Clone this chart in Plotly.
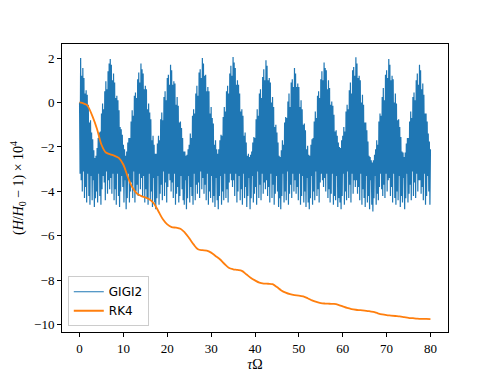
"""
Energy error of GIGI2 vs RK4 over tau*Omega, drawn with Plotly.
"""

import numpy as np
import plotly.graph_objects as go

gigi2_h = [
    0.0, -3.2, 2.0, -3.5, 1.2, -4.0, 1.55, -3.1, 1.1, -4.3, 0.4, -3.8, 0.55, -4.5, 0.35, -3.2,
    -0.1, -4.2, -0.9, -4.6, -0.8, -3.3, -1.35, -4.4, -1.65, -3.5, -2.15, -4.7, -2.5, -4.3,
    -2.4, -4.0, -2.05, -4.5, -1.6, -3.2, -1.35, -4.2, -1.3, -4.6, -0.5, -3.9, -0.05, -3.3,
    -0.3, -3.6, 0.5, -4.4, 0.95, -3.1, 0.6, -4.1, 1.4, -3.5, 1.75, -3.9, 1.95,
    -3.4, 1.7, -4.1, 1.0, -3.2, 1.3, -4.4, 0.9, -3.9, 0.2, -4.6, 0.3, -3.2, 0.1, -4.2, -0.35,
    -4.7, -1.1, -4.0, -1.2, -3.3, -1.45, -3.8, -1.9, -4.5, -2.1, -3.5, -2.4,
    -4.8, -2.2, -4.3, -1.8, -3.2, -1.6, -4.5, -1.6, -4.0, -0.85, -3.6, -0.35, -4.3, -0.6,
    -3.1, 0.3, -4.5, 0.45, -4.0, 0.2, -3.7, 1.05, -4.2, 1.35, -3.2, 0.9, -3.9, 1.75,
    -3.4, 1.5, -4.2, 1.3, -3.3, 0.6, -4.5, 0.75, -3.9, 0.6, -4.3, -0.3, -4.6, -0.05, -3.2, -0.45,
    -4.4, -0.75, -4.0, -1.7, -4.7, -1.5, -3.4, -1.9, -4.5, -2.3, -4.8,
    -2.3, -4.3, -1.85, -3.3, -1.5, -4.6, -1.7, -4.1, -0.75, -3.7, -0.45, -4.4, -0.8, -3.1,
    0.25, -4.2, 0.5, -3.6, 0.1, -4.5, 1.1, -3.8, 1.25, -3.2, 0.8, -3.5, 1.7,
    -4.0, 1.45, -3.6, 0.8, -4.3, 0.95, -3.2, 0.85, -4.6, -0.1, -4.1, 0.25, -3.8, -0.15, -4.5, -0.9,
    -4.2, -0.85, -3.3, -1.15, -3.9, -1.6, -4.4, -2.2, -4.6, -2.2, -3.5, -2.4,
    -4.8, -2.35, -4.3, -2.1, -3.3, -1.9, -4.5, -1.4, -3.8, -1.6, -4.2, -0.6, -4.6, -0.3, -3.2, -0.5,
    -4.4, 0.4, -3.7, 0.75, -4.1, 0.3, -3.6, 1.35, -4.3, 1.5, -3.1, 1.1, -3.9, 2.0,
    -3.4, 1.75, -4.1, 1.2, -3.7, 1.25, -4.4, 0.5, -3.2, 0.7, -4.6, 0.5, -4.0, -0.5, -4.3, -0.2,
    -3.3, -0.7, -4.5, -0.95, -4.2, -1.9, -4.7, -1.7, -3.4, -2.1, -4.4, -2.3,
    -4.8, -2.1, -4.2, -1.7, -3.3, -1.45, -4.6, -1.5, -4.0, -0.65, -4.4, -0.2, -3.2, -0.4,
    -4.3, 0.5, -3.9, 0.75, -4.5, 0.4, -3.6, 1.3, -3.2, 1.65, -3.5, 1.2, -3.8, 2.05,
    -3.5, 1.8, -4.2, 1.55, -3.2, 0.8, -4.5, 1.0, -4.0, 0.8, -3.3, 0.4, -4.4, -0.4, -3.9, -0.3,
    -4.6, -0.6, -3.2, -1.5, -4.3, -1.35, -3.8, -1.8, -4.7, -2.4, -4.2, -2.3, -3.4, -2.45,
    -4.8, -2.35, -4.3, -2.2, -3.3, -1.8, -4.5, -1.55, -4.1, -1.6, -3.8, -0.75, -4.6, -0.3,
    -3.1, -0.6, -4.3, 0.4, -3.7, 0.6, -4.4, 0.2, -3.2, 1.15, -4.1, 1.5, -3.6, 1.0, -3.9, 1.9,
    -3.5, 1.65, -4.2, 1.0, -3.8, 1.1, -4.5, 0.9, -3.2, 0.0, -4.3, 0.25, -3.7, -0.2,
    -4.6, -1.1, -4.1, -1.0, -3.3, -1.35, -4.0, -1.8, -4.7, -2.4, -4.3, -2.45,
    -4.8, -2.15, -4.2, -1.7, -3.2, -1.9, -4.5, -0.9, -4.0, -0.65, -4.4, -0.7, -3.1, 0.05,
    -4.6, 0.4, -4.1, -0.2, -3.7, 0.9, -4.3, 1.05, -3.2, 0.7, -4.0, 1.55,
    -3.5, 1.3, -4.1, 0.7, -3.8, 0.85, -4.4, 0.7, -3.2, -0.2, -4.6, 0.1, -4.2, -0.3, -3.3, -1.0,
    -4.5, -0.95, -4.0, -1.25, -4.7, -2.1, -3.4, -1.95, -4.5, -2.35, -4.8,
    -2.4, -4.3, -1.9, -3.3, -1.65, -4.6, -1.6, -4.0, -0.85, -4.4, -0.4, -3.1, -0.7, -4.2,
    0.3, -3.9, 0.5, -4.5, 0.2, -3.6, 1.05, -3.2, 1.4, -3.5, 1.0, -3.8, 1.8,
    -3.4, 1.55, -4.0, 1.45, -3.2, 0.6, -4.3, 1.0, -3.9, 0.65, -4.5, -0.1, -4.1, 0.05, -3.2, -0.15,
    -4.6, -0.55, -4.2, -1.3, -4.4, -1.25, -3.3, -1.5, -4.7, -1.8, -4.3, -2.0, -4.5,
    -2.05, -4.8, -1.7, -4.2, -1.5, -3.2, -1.1, -4.6, -1.3, -4.0, -0.4, -4.4, -0.1, -3.1, -0.3,
    -4.3, 0.55, -3.7, 0.9, -4.5, 0.4, -3.2, 1.45, -4.1, 1.6, -3.5, 1.2, -3.8, 2.03,
    -3.5, 1.75, -4.1, 1.1, -3.8, 1.2, -4.4, 1.0, -3.2, 0.0, -4.6, 0.35, -3.9, -0.1, -4.3, -0.9,
    -4.7, -0.9, -3.3, -1.25, -4.5, -1.75, -4.2, -2.4, -4.8, -2.45, -3.5, -2.6, -4.6, -2.7,
    -4.9, -2.6, -4.3, -2.35, -3.3, -2.1, -4.6, -1.7, -4.1, -1.9, -4.4, -0.85, -3.8, -0.5,
    -3.2, -0.6, -3.9, 0.25, -4.2, 0.65, -3.7, 0.1, -4.3, 1.25, -3.2, 1.45, -4.0, 1.1, -3.5, 1.96,
    -3.4, 1.7, -4.2, 1.0, -3.8, 1.2, -4.5, 1.05, -3.2, 0.0, -4.3, 0.4, -4.6, -0.05, -4.0, -0.8,
    -4.4, -0.75, -3.3, -1.1, -4.7, -1.55, -4.2, -2.2, -4.5, -2.25, -3.4, -2.45,
    -4.8, -2.25, -4.3, -1.85, -3.2, -1.6, -4.5, -1.6, -4.1, -0.85, -3.7, -0.4, -4.4, -0.7,
    -3.1, 0.25, -4.2, 0.45, -3.6, 0.1, -4.3, 1.0, -3.2, 1.3, -4.0, 0.8, -3.5, 1.7,
    -3.5, 1.45, -4.1, 0.6, -3.8, 0.85, -4.4, 0.35, -3.2, -0.5, -4.6, -0.5, -4.2, -0.85,
    -3.3, -1.4, -4.0, -1.75, -4.6, -2.1,
]
gigi2_tau = np.linspace(0, 80, len(gigi2_h))

# RK4: slow staircase drift
rk4_tau = [
    0, 1, 1.7, 2, 3, 4, 5, 6, 7, 8, 9, 10, 11, 12, 13, 14, 15, 16, 17, 18, 19, 20,
    21, 22, 23, 24, 25, 26, 27, 28, 29, 30, 31, 32, 33, 34, 35, 36, 37, 38, 39, 40,
    41, 42, 43, 44, 45, 46, 47, 48, 49, 50, 51, 52, 53, 54, 55, 56, 57, 58, 59, 60,
    61, 62, 63, 64, 65, 66, 67, 68, 69, 70, 71, 72, 73, 74, 75, 76, 77, 78, 79, 80,
]
rk4_h = [
    0.0, -0.05, -0.11, -0.2, -0.65, -1.2, -1.9, -2.25, -2.33, -2.4, -2.5, -2.8, -3.35,
    -3.8, -4.08, -4.2, -4.27, -4.36, -4.55, -4.9, -5.25, -5.48,
    -5.6, -5.63, -5.68, -5.85, -6.1, -6.38, -6.6, -6.64, -6.66, -6.75, -6.9, -7.05,
    -7.25, -7.43, -7.5, -7.53, -7.57, -7.72, -7.88, -8.0,
    -8.1, -8.14, -8.15, -8.17, -8.3, -8.45, -8.55, -8.62, -8.66, -8.68, -8.72, -8.8,
    -8.9, -8.97, -9.02, -9.04, -9.05, -9.06, -9.1, -9.17,
    -9.24, -9.29, -9.32, -9.34, -9.36, -9.38, -9.42, -9.48, -9.53, -9.56, -9.58, -9.6,
    -9.62, -9.65, -9.68, -9.7, -9.72, -9.73, -9.73, -9.74,
]

x_ticks = [0, 10, 20, 30, 40, 50, 60, 70, 80]
y_ticks = [-10, -8, -6, -4, -2, 0, 2]

fig = go.Figure()
fig.add_trace(
    go.Scatter(
        x=gigi2_tau,
        y=gigi2_h,
        name="GIGI2",
        mode="lines",
        line=dict(color="#1f77b4", width=1.2),
    )
)
fig.add_trace(
    go.Scatter(
        x=rk4_tau,
        y=rk4_h,
        name="RK4",
        mode="lines",
        line=dict(color="#ff7f0e", width=1.8, shape="spline"),
    )
)

axis_style = dict(
    showline=True,
    linecolor="black",
    linewidth=1,
    mirror=True,
    showgrid=False,
    zeroline=False,
    automargin=False,
    ticks="outside",
    ticklen=4,
    tickcolor="black",
    tickfont=dict(family="Liberation Serif", size=13, color="black"),
)

fig.update_xaxes(
    range=[-4, 84],
    tickvals=x_ticks,
    title=dict(text="<i>τ</i>Ω", font=dict(family="Liberation Serif", size=14, color="black"), standoff=4),
    **axis_style,
)
fig.update_yaxes(
    range=[-10.32, 2.63],
    tickvals=y_ticks,
    title=dict(
        text="(<i>H</i>/<i>H</i><sub>0</sub> − 1) × 10<sup>4</sup>",
        font=dict(family="Liberation Serif", size=14, color="black"),
        standoff=8,
    ),
    **axis_style,
)

# the page body adds an 8px offset, so the figure is 8px smaller than the window
fig.update_layout(
    width=490,
    height=366,
    margin=dict(l=54, r=50, t=36, b=42),
    plot_bgcolor="white",
    paper_bgcolor="white",
    showlegend=True,
    legend=dict(
        x=0.015,
        y=0.02,
        xanchor="left",
        yanchor="bottom",
        bgcolor="rgba(255,255,255,0.8)",
        bordercolor="#cccccc",
        borderwidth=1,
        font=dict(family="DejaVu Sans", size=12, color="black"),
        itemwidth=30,
    ),
)

fig.write_html("out.html")
